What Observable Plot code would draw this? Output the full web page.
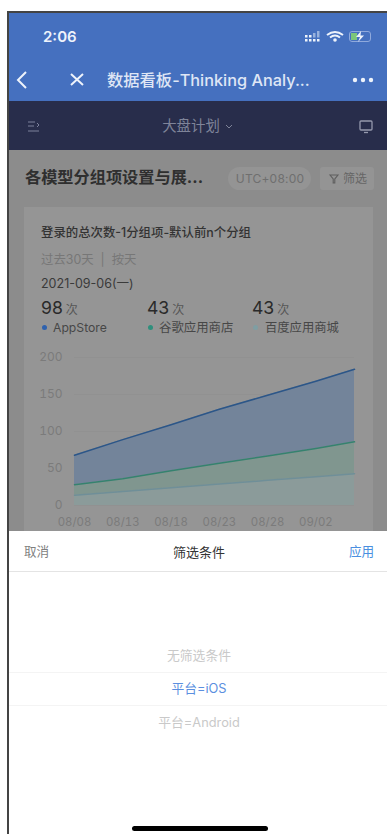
<!DOCTYPE html>
<html lang="zh">
<head>
<meta charset="utf-8">
<script src="https://cdn.jsdelivr.net/npm/d3@7"></script>
<script src="https://cdn.jsdelivr.net/npm/@observablehq/plot@0.6"></script>
<style>
  html, body { margin: 0; padding: 0; background: #fff; }
  body { width: 387px; height: 834px; overflow: hidden; position: relative;
         font-family: Inter, "Noto Sans CJK SC", sans-serif; }
  .box { position: absolute; }
  .t { position: absolute; white-space: nowrap; line-height: 1; transform: translateY(-50%); }
  .c { transform: translate(-50%, -50%); }
  .dot { position: absolute; width: 5px; height: 5px; border-radius: 50%; }
  svg.icon { position: absolute; overflow: visible; }
  #chart { position: absolute; left: 24px; top: 345px; }
  #chart svg { display: block; background: transparent; }
</style>
</head>
<body>
<!-- phone frame -->
<div class="box" style="left:7px;top:11px;width:380px;height:823px;background:#fff;border-left:2px solid #444;border-top:2px solid #444;box-sizing:border-box"></div>
<!-- app bars -->
<div class="box" style="left:9px;top:13px;width:378px;height:88px;background:#4570bf"></div>
<div class="box" style="left:9px;top:101px;width:378px;height:49px;background:#282d4b"></div>
<!-- dimmed dashboard -->
<div class="box" style="left:9px;top:150px;width:378px;height:381px;background:#8c8c8c"></div>
<div class="box" style="left:24px;top:207px;width:349px;height:324px;background:#959595"></div>

<div class="t" style="left:43px;top:36px;font-size:15px;font-weight:600;color:#eef3fb">2:06</div>
<!-- status icons -->
<svg class="icon" style="left:304px;top:30px" width="70" height="14" fill="#eef3fb">
  <rect x="1" y="5" width="2.5" height="2.5"/><rect x="5" y="5" width="2.5" height="2.5"/><rect x="9" y="3" width="2.5" height="4.5" opacity=".5"/><rect x="13" y="1" width="2.5" height="6.5" opacity=".5"/>
  <rect x="1" y="9" width="2.5" height="2.5"/><rect x="5" y="9" width="2.5" height="2.5"/><rect x="9" y="9" width="2.5" height="2.5"/><rect x="13" y="9" width="2.5" height="2.5"/>
  <path d="M23 5 Q31 -1 39 5" fill="none" stroke="#eef3fb" stroke-width="2"/>
  <path d="M26 7.5 Q31 3.5 36 7.5" fill="none" stroke="#eef3fb" stroke-width="2"/>
  <circle cx="31" cy="10" r="1.8"/>
  <rect x="45.5" y="1.5" width="21" height="10" rx="2.5" fill="none" stroke="#8fa9dc" stroke-width="1"/>
  <rect x="47" y="3" width="6" height="7" fill="#7cc67a"/>
  <path d="M57 1 L52 7 H56 L54 12 L60 5.5 H56.5 Z"/>
</svg>
<!-- navigation row -->
<svg class="icon" style="left:16px;top:70px" width="90" height="20" fill="none" stroke="#eef3fb" stroke-width="2">
  <path d="M10 2 L2 10 L10 18"/><path d="M55 4 L67 15 M67 4 L55 15"/>
</svg>
<div class="t" style="left:107px;top:80px;font-size:16.3px;font-weight:500;color:#dfe6f5">数据看板-Thinking Analy...</div>
<svg class="icon" style="left:352px;top:76px" width="24" height="8" fill="#eef3fb">
  <circle cx="3" cy="4" r="2.2"/><circle cx="11" cy="4" r="2.2"/><circle cx="19" cy="4" r="2.2"/>
</svg>
<!-- board header -->
<svg class="icon" style="left:27px;top:120px" width="14" height="14" fill="none" stroke="#7d829c" stroke-width="1">
  <path d="M1 2 H8 M1 6 H7 M1 11 H12 M10 3 L12 5 L10 7"/>
</svg>
<div class="t c" style="left:191px;top:126px;font-size:14.4px;color:#7f8499">大盘计划</div>
<svg class="icon" style="left:225px;top:124px" width="8" height="6" fill="none" stroke="#7f8499" stroke-width="1">
  <path d="M1 1 L4 4 L7 1"/>
</svg>
<svg class="icon" style="left:359px;top:120px" width="16" height="14" fill="none" stroke="#9599ad" stroke-width="1.3">
  <rect x="1" y="1" width="12" height="9" rx="1"/><path d="M5 12.5 H9"/>
</svg>
<div class="t" style="left:25px;top:177px;font-size:16.2px;font-weight:700;color:#2f2f2f">各模型分组项设置与展...</div>
<div class="box" style="left:228px;top:167px;width:83px;height:23px;border-radius:12px;background:#949494"></div>
<div class="t c" style="left:270px;top:178.5px;font-size:12px;letter-spacing:.2px;color:#6f6f6f">UTC+08:00</div>
<div class="box" style="left:320px;top:167px;width:54px;height:23px;border-radius:3px;background:#949494"></div>
<svg class="icon" style="left:329px;top:174px" width="10" height="10" fill="none" stroke="#5e5e5e" stroke-width="1.1">
  <path d="M1 1 H9 L5.8 5 V9 H4.2 V5 Z"/>
</svg>
<div class="t" style="left:343px;top:178.5px;font-size:12px;color:#666">筛选</div>

<!-- card text -->
<div class="t" style="left:41px;top:233px;font-size:12.4px;font-weight:500;color:#333">登录的总次数-1分组项-默认前n个分组</div>
<div class="t" style="left:41px;top:260px;font-size:12.4px;color:#777">过去30天&nbsp;&nbsp;|&nbsp;&nbsp;按天</div>
<div class="t" style="left:41px;top:284px;font-size:12.5px;color:#3a3a3a">2021-09-06(一)</div>

<div class="t" style="left:41px;top:308px;font-size:17.6px;color:#2a2a2a">98<span style="font-size:12px;color:#555;margin-left:3px">次</span></div>
<div class="t" style="left:147px;top:308px;font-size:17.6px;color:#2a2a2a">43<span style="font-size:12px;color:#555;margin-left:3px">次</span></div>
<div class="t" style="left:252px;top:308px;font-size:17.6px;color:#2a2a2a">43<span style="font-size:12px;color:#555;margin-left:3px">次</span></div>
<div class="dot" style="left:41.5px;top:325px;background:#2f62ae"></div>
<div class="dot" style="left:147.5px;top:325px;background:#2f8f7c"></div>
<div class="dot" style="left:252.5px;top:325px;background:#7f9ea3"></div>
<div class="t" style="left:53px;top:327.5px;font-size:12.2px;color:#474747">AppStore</div>
<div class="t" style="left:159px;top:327.5px;font-size:12.4px;color:#474747">谷歌应用商店</div>
<div class="t" style="left:265px;top:327.5px;font-size:12.3px;color:#474747">百度应用商城</div>

<div id="chart"></div>

<!-- filter sheet -->
<div class="box" style="left:9px;top:531px;width:378px;height:303px;background:#fff"></div>
<div class="box" style="left:9px;top:571px;width:378px;height:1px;background:#e4e4e4"></div>
<div class="t" style="left:24px;top:552px;font-size:12.6px;color:#7f7f7f">取消</div>
<div class="t c" style="left:199px;top:552px;font-size:13px;color:#333">筛选条件</div>
<div class="t" style="left:349px;top:552px;font-size:12.6px;color:#4a8fe0">应用</div>
<div class="box" style="left:9px;top:672px;width:378px;height:1px;background:#f4f4f4"></div>
<div class="box" style="left:9px;top:705px;width:378px;height:1px;background:#f4f4f4"></div>
<div class="t c" style="left:199px;top:656px;font-size:12.8px;color:#c9c9c9">无筛选条件</div>
<div class="t c" style="left:199px;top:689px;font-size:12.8px;color:#5b8fe0">平台=iOS</div>
<div class="t c" style="left:199px;top:723px;font-size:12.8px;color:#c9c9c9">平台=Android</div>
<div class="box" style="left:132px;top:826px;width:136px;height:5px;border-radius:3px;background:#000"></div>

<script>
// Daily login counts per channel at the labelled dates; the chart stacks them.
const dateLabels = ["2021-08-08", "2021-08-13", "2021-08-18", "2021-08-23", "2021-08-28", "2021-09-02", "2021-09-06"];
const baiduStore = [14, 19, 24, 29, 34, 39, 43];
const googleStore = [14, 17, 23, 28, 33, 38, 43];
const appStore = [40, 53, 62, 73, 82, 91, 98];
const yTicks = [0, 50, 100, 150, 200];

const dates = dateLabels.map(d => new Date(d + "T00:00:00Z"));
const seriesOrder = ["百度应用商城", "谷歌应用商店", "AppStore"];
const seriesValues = [baiduStore, googleStore, appStore];
const fills = ["#8b9b9a", "#80968f", "#73849a"];
const strokes = ["#6f8f98", "#35826f", "#2c5688"];

// Long-format table consumed by the stacked marks.
const rows = seriesOrder.flatMap((name, i) =>
  dates.map((date, j) => ({date, name, value: seriesValues[i][j]})));

const stack = {x: "date", y: "value", z: "name", order: seriesOrder};
const fmt = d3.utcFormat("%m/%d");
const axisFont = {fill: "#7b7b7b", fontFamily: "Inter, sans-serif"};

const chart = Plot.plot({
  width: 349,
  height: 186,
  marginLeft: 50,
  marginRight: 19,
  marginTop: 12,
  marginBottom: 26,
  style: {background: "transparent", overflow: "visible"},
  x: {type: "utc", domain: [dates[0], dates[dates.length - 1]]},
  y: {domain: [0, 200]},
  color: {domain: seriesOrder, range: fills},
  marks: [
    Plot.ruleY(yTicks, {stroke: "#919191", strokeWidth: 1, x1: dates[0], x2: dates[dates.length - 1]}),
    Plot.areaY(rows, Plot.stackY({...stack, fill: "name"})),
    // Outline along the top of each stacked band.
    Plot.lineY(rows, Plot.stackY2({...stack, stroke: "name", strokeWidth: 1.5})),
    Plot.axisY({ticks: yTicks, tickSize: 0, tickPadding: 12, label: null, fontSize: 12, ...axisFont}),
    Plot.axisX({ticks: dates.slice(0, 6), tickSize: 0, tickPadding: 12, label: null, tickFormat: fmt, fontSize: 11.4, ...axisFont})
  ]
});
// Give each band outline its own stroke colour.
d3.select(chart).selectAll("g[aria-label='line'] path")
  .each(function() {
    const i = fills.indexOf(this.getAttribute("stroke"));
    if (i >= 0) this.setAttribute("stroke", strokes[i]);
  });
document.getElementById("chart").append(chart);
</script>
</body>
</html>
